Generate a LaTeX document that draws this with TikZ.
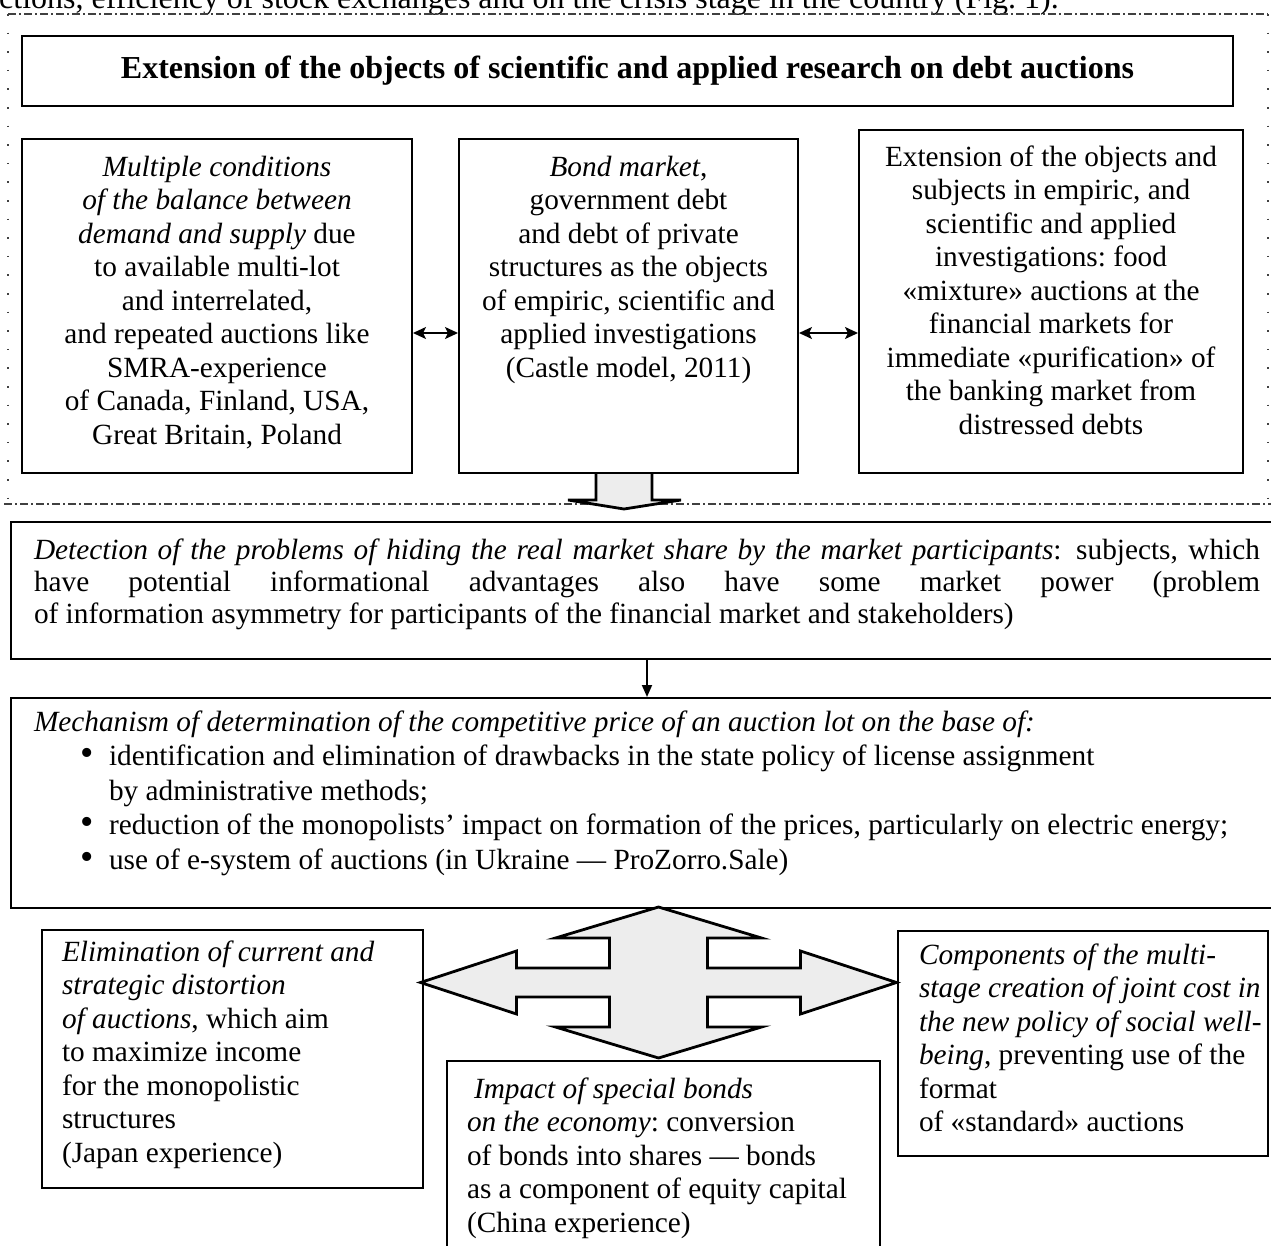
\documentclass[tikz,border=0pt]{standalone}
\usepackage{fontspec}
\setmainfont{Liberation Serif}
\usepackage{tikz}
\usetikzlibrary{arrows.meta, positioning, calc}
\newcommand{\txtsize}{\fontsize{29.3}{33.5}\selectfont}
\newcommand{\pagesize}{\fontsize{32}{36}\selectfont}
\newcommand{\itm}{\hspace*{47pt}\makebox[28pt][l]{\fontsize{38}{30}\selectfont\textbullet}}
\newcommand{\fullline}[1]{\makebox[1226pt][s]{\spaceskip=0pt\relax\xspaceskip=0pt\relax #1}}

\begin{document}
\begin{tikzpicture}[x=1pt, y=-1pt,
    box/.style={draw, line width=2pt, inner ysep=0pt, font=\txtsize,
                execute at begin node={\spaceskip=.25em\relax\xspaceskip=.25em\relax}},
    cbox/.style={box, align=center, anchor=north west},
    lbox/.style={box, align=left, anchor=north west},
    dblarr/.style={{Stealth[length=13pt, width=12pt, inset=3pt]}-{Stealth[length=13pt, width=12pt, inset=3pt]}, line width=1.8pt},
    downarr/.style={-{Triangle[length=12pt, width=10pt]}, line width=1.8pt},
    blockarr/.style={draw, line width=2.8pt, fill=gray!14, line join=miter},
    frameh/.style={line width=1.4pt, black!75, dash pattern=on 8pt off 3pt on 2pt off 3pt},
    framev/.style={line width=1.6pt, black!75, dash pattern=on 1.6pt off 17pt}
]
\useasboundingbox (0,0) rectangle (1271,1245);
\clip (0,0) rectangle (1271,1245);

\node[anchor=base west, inner sep=0pt, font=\pagesize] (intro) at (-1,8)
  {ctions, efficiency of stock exchanges and on the crisis stage in the country (Fig.~1).};

% dash-dot frame round the upper block
\draw[frameh] (8,14) -- (1268,14);
\draw[frameh] (4,504) -- (1271,504);
\draw[framev] (8,14) -- (8,504);
\draw[framev] (1268,14) -- (1268,504);

\node[box, anchor=north west, minimum width=1211pt, minimum height=70pt, font=\pagesize\bfseries] (title) at (21,35)
  {Extension of the objects of scientific and applied research on debt auctions};

\node[cbox, text width=370pt, inner xsep=10pt, text height=37pt, text depth=297pt] (mult) at (21,138)
  {\textit{Multiple conditions}\\ \textit{of the balance between}\\ \textit{demand and supply} due\\ to available multi-lot\\
   and interrelated,\\ and repeated auctions like\\ SMRA-experience\\ of Canada, Finland, USA,\\ Great Britain, Poland};
\node[cbox, text width=319pt, inner xsep=10pt, text height=37pt, text depth=297pt] (bond) at (458,138)
  {\textit{Bond market},\\ government debt\\ and debt of private\\ structures as the objects\\ of empiric, scientific and\\
   applied investigations\\ (Castle model, 2011)};
\node[cbox, text width=364pt, inner xsep=10pt, text height=36pt, text depth=307pt] (ext) at (858,129)
  {Extension of the objects and\\ subjects in empiric, and\\ scientific and applied\\ investigations: food\\
   «mixture» auctions at the\\ financial markets for\\ immediate «purification» of\\ the banking market from\\ distressed debts};

\coordinate (lvl) at (0,333);
\draw[dblarr] (mult.east |- lvl) -- (bond.west |- lvl);
\draw[dblarr] (bond.east |- lvl) -- (ext.west |- lvl);

\draw[blockarr] ([xshift=-32.5pt]bond.south) -- ++(0,26) -- ++(-28,0) -- ++(56,9) -- ++(57,-9) -- ++(-29,0) -- ++(0,-26);

\node[lbox, text width=1226pt, inner xsep=23pt, text height=37pt, text depth=100pt, font=\fontsize{29.3}{32}\selectfont] (detect) at (10,521)
  {\fullline{\textit{Detection of the problems of hiding the real market share by the market participants}: subjects, which}\\
   \fullline{have potential informational advantages also have some market power (problem}\\
   of information asymmetry for participants of the financial market and stakeholders)};

\node[lbox, text width=1226pt, inner xsep=23pt, text height=33pt, text depth=177pt, font=\fontsize{29.3}{34.5}\selectfont] (mech) at (10,697)
  {\textit{Mechanism of determination of the competitive price of an auction lot on the base of:}\\
   \itm identification and elimination of drawbacks in the state policy of license assignment\\
   \hspace*{75pt}by administrative methods;\\
   \itm reduction of the monopolists’ impact on formation of the prices, particularly on electric energy;\\
   \itm use of e-system of auctions (in Ukraine — ProZorro.Sale)};

\draw[downarr] (detect.south) -- (mech.north);

\node[lbox, text width=341pt, inner xsep=20pt, text height=31pt, text depth=227pt] (elim) at (41,929)
  {\textit{Elimination of current and}\\ \textit{strategic distortion}\\ \textit{of auctions}, which aim\\ to maximize income\\
   for the monopolistic\\ structures\\ (Japan experience)};
\node[lbox, text width=393pt, inner xsep=20pt, text height=37pt, text depth=178pt] (impact) at (446,1060)
  {\hspace*{7pt}\textit{Impact of special bonds}\\ \textit{on the economy}: conversion\\ of bonds into shares — bonds\\
   as a component of equity capital\\ (China experience)};
\node[lbox, text width=370pt, inner xsep=0pt, text height=33pt, text depth=192pt] (comp) at (897,930)
  {\hspace*{21pt}\textit{Components of the multi-}\\ \hspace*{21pt}\textit{stage creation of joint cost in}\\
   \hspace*{21pt}\textit{the new policy of social well-}\\ \hspace*{21pt}\textit{being}, preventing use of the\\
   \hspace*{21pt}format\\ \hspace*{21pt}of «standard» auctions};

% four-way block arrow between the lower boxes
\coordinate (hub) at (658.5,982.5);
\begin{scope}[shift={(hub)}]
\filldraw[blockarr] (0,-75.5) -- (103,-44.5) -- (49,-44.5) -- (49,-14.5) -- (142,-14.5) -- (142,-31.5) -- (238,0)
  -- (142,31.5) -- (142,14.5) -- (49,14.5) -- (49,44.5) -- (103,44.5) -- (0,75.5) -- (-103,44.5) -- (-49,44.5)
  -- (-49,14.5) -- (-142,14.5) -- (-142,31.5) -- (-238,0) -- (-142,-31.5) -- (-142,-14.5) -- (-49,-14.5)
  -- (-49,-44.5) -- (-103,-44.5) -- cycle;
\end{scope}
\end{tikzpicture}
\end{document}
